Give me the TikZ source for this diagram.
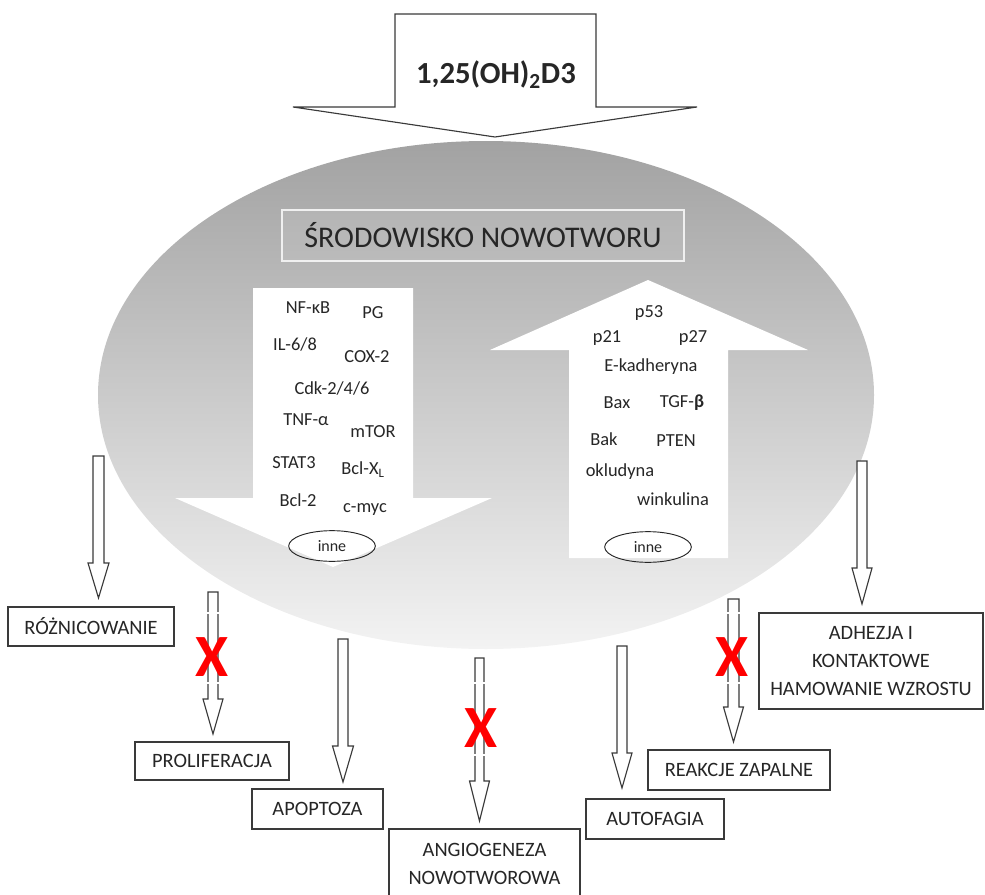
\documentclass[tikz,border=0pt]{standalone}
\usepackage{fontspec}
\setmainfont{Carlito}
\usetikzlibrary{shapes.geometric}
\definecolor{ink}{HTML}{262626}
\definecolor{edge}{HTML}{3A3A3A}
\definecolor{shadetop}{HTML}{A2A2A2}
\definecolor{shadebot}{HTML}{F3F3F3}
\newcommand{\blkarrow}[6]{% xc, ytop, ybase, ytip, half shaft, half wing
  \draw[arrline] ({#1-#5},#2) -- ({#1+#5},#2) -- ({#1+#5},#3) -- ({#1+#6},#3)
     -- (#1,#4) -- ({#1-#6},#3) -- ({#1-#5},#3) -- cycle;}
\newcommand{\shaftgap}[3]{% xc, y, half shaft
  \fill[white] ({#1-#3-1.5},{#2-1.2}) rectangle ({#1+#3+1.5},{#2+1.2});}
\begin{document}
\begin{tikzpicture}[x=0.75pt,y=-0.75pt,
  arrline/.style={draw=edge,line width=0.85pt,fill=white,line join=miter},
  lbl/.style={text=ink,font=\fontsize{13.8}{16}\selectfont,inner sep=0pt},
  outbox/.style={draw=edge,line width=0.85pt,fill=white,text=ink,align=center,
     font=\fontsize{15.3}{21.3}\selectfont,inner sep=0pt},
  redx/.style={text=red,font=\fontsize{45}{45}\selectfont\bfseries,inner sep=0pt},
  innebox/.style={draw=ink,line width=0.7pt,ellipse,inner sep=0pt,text=ink,
     font=\fontsize{12}{14}\selectfont,minimum width=65pt,minimum height=23pt}]
\useasboundingbox (0,0) rectangle (985,895);
% environment ellipse
\shade[top color=shadetop,bottom color=shadebot] (486,395) ellipse [x radius=388, y radius=254];
% top arrow
\draw[arrline] (395,14) -- (596,14) -- (596,107) -- (697,107) -- (495,137)
   -- (293,107) -- (395,107) -- cycle;
\node[text=ink,font=\fontsize{23}{27}\selectfont\bfseries,inner sep=0pt] (vitd) at (496,75) {1,25(OH)\textsubscript{2}D3};
% tumour environment label
\node[draw=white!88!gray,line width=0.8pt,fill=white,fill opacity=0.09,text opacity=1,
   text=ink,font=\fontsize{22.5}{26}\selectfont,minimum width=301.5pt,minimum height=38.25pt,inner sep=0pt]
   (env) at (483,235.5) {ŚRODOWISKO NOWOTWORU};
% big white arrows
\fill[white] (253,288) -- (413,288) -- (413,498) -- (492,498) -- (333,567) -- (175,498) -- (253,498) -- cycle;
\fill[white] (648,280) -- (808,350) -- (728,350) -- (728,558) -- (569,558) -- (569,350) -- (490,350) -- cycle;
% left arrow labels
\node[lbl] (nfkb) at (308,308) {NF-κB};
\node[lbl] (pg) at (373,313) {PG};
\node[lbl] (il) at (295,345) {IL-6/8};
\node[lbl] (cox) at (367,357) {COX-2};
\node[lbl] (cdk) at (332,388) {Cdk-2/4/6};
\node[lbl] (tnf) at (306,420) {TNF-α};
\node[lbl] (mtor) at (373,432) {mTOR};
\node[lbl] (stat) at (294,463) {STAT3};
\node[lbl] (bclx) at (363,470) {Bcl-X\textsubscript{L}};
\node[lbl] (bcl2) at (298,500) {Bcl-2};
\node[lbl] (myc) at (365,510) {c-myc};
\node[innebox] (inne1) at (332,546) {inne};
% right arrow labels
\node[lbl] (p53) at (649,313) {p53};
\node[lbl] (p21) at (607,338) {p21};
\node[lbl] (p27) at (693,338) {p27};
\node[lbl] (ekad) at (651,367) {E-kadheryna};
\node[lbl] (bax) at (617,403) {Bax};
\node[lbl] (tgf) at (682,403) {TGF-\textbf{β}};
\node[lbl] (bak) at (604,439) {Bak};
\node[lbl] (pten) at (676,441) {PTEN};
\node[lbl] (oklu) at (620,472) {okludyna};
\node[lbl] (wink) at (673,499) {winkulina};
\node[innebox] (inne2) at (648,547) {inne};
% hollow arrows
\blkarrow{98.5}{456}{563}{598}{5.5}{10.5}
\blkarrow{213}{592}{699}{734}{5}{10}
\blkarrow{343}{639}{746}{782}{5}{10.5}
\blkarrow{479.5}{658}{781}{821}{4.5}{10}
\blkarrow{622}{646}{753}{788}{5}{10}
\blkarrow{733.5}{599}{707}{742}{5.5}{10}
\blkarrow{862}{461}{568}{604}{5}{10}
% small gaps in the blocked arrows
\shaftgap{213}{613}{5}
\shaftgap{213}{683}{5}
\shaftgap{479.5}{683}{4.5}
\shaftgap{479.5}{755}{4.5}
\shaftgap{733.5}{613}{5.5}
\shaftgap{733.5}{683}{5.5}
% red crosses
\node[redx] (x1) at (212,657) {X};
\node[redx] (x2) at (481,728) {X};
\node[redx] (x3) at (732,657) {X};
% outcome boxes
\node[outbox,minimum width=124.5pt,minimum height=29.25pt] (rozn) at (91,626.5) {RÓŻNICOWANIE};
\node[outbox,minimum width=115.5pt,minimum height=28.5pt] (prol) at (212,761) {PROLIFERACJA};
\node[outbox,minimum width=98.25pt,minimum height=30pt] (apop) at (317.5,809) {APOPTOZA};
\node[outbox,minimum width=143.25pt,minimum height=52.5pt] (angio) at (484.5,864) {ANGIOGENEZA\\NOWOTWOROWA};
\node[outbox,minimum width=103.5pt,minimum height=30pt] (auto) at (655,819) {AUTOFAGIA};
\node[outbox,minimum width=136.5pt,minimum height=30pt] (zap) at (739,770) {REAKCJE ZAPALNE};
\node[outbox,minimum width=168pt,minimum height=72pt] (adh) at (871,661) {ADHEZJA I\\KONTAKTOWE\\HAMOWANIE WZROSTU};
\end{tikzpicture}
\end{document}
